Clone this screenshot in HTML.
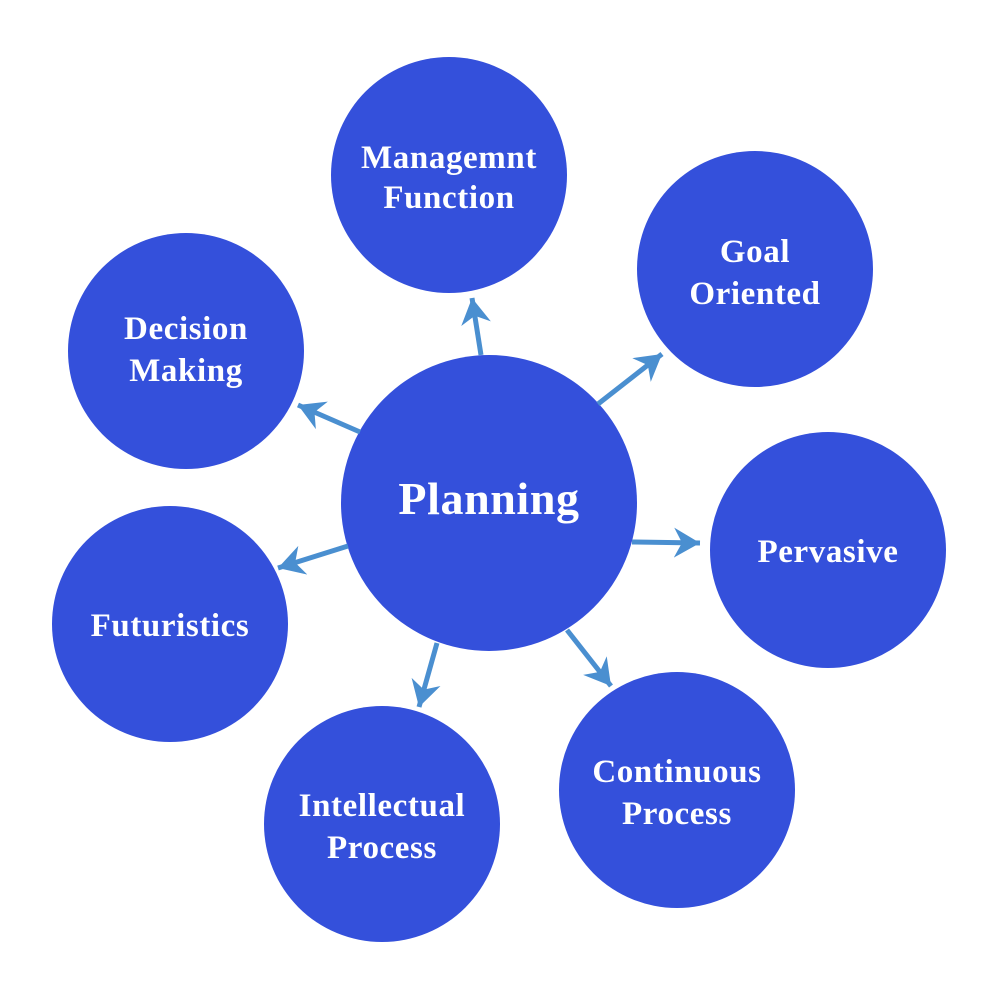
<!DOCTYPE html>
<html><head><style>
html,body{margin:0;padding:0;background:#fff;}
svg{display:block}
text{font-family:"Liberation Serif",serif;font-weight:bold;fill:#fff;text-anchor:middle;letter-spacing:0.6px;}
</style></head><body>
<svg width="1000" height="1000" viewBox="0 0 1000 1000">
<defs>
<marker id="a" markerWidth="30" markerHeight="32" refX="26" refY="15" orient="auto" markerUnits="userSpaceOnUse" viewBox="0 0 30 32">
<path d="M0,0 L26,15 L0,30 L8,15 z" fill="#4A8FD0"/>
</marker>
</defs>
<g fill="#3450DB">
<circle cx="489" cy="503" r="148"/>
<circle cx="449" cy="175" r="118"/>
<circle cx="755" cy="269" r="118"/>
<circle cx="828" cy="550" r="118"/>
<circle cx="677" cy="790" r="118"/>
<circle cx="382" cy="824" r="118"/>
<circle cx="170" cy="624" r="118"/>
<circle cx="186" cy="351" r="118"/>
</g>
<g stroke="#4A8FD0" stroke-width="5" fill="none" marker-end="url(#a)">
<line x1="481" y1="355" x2="472" y2="298"/>
<line x1="598" y1="404" x2="662" y2="354"/>
<line x1="360" y1="432" x2="298" y2="405"/>
<line x1="348" y1="546" x2="278" y2="568"/>
<line x1="632" y1="542" x2="700" y2="543"/>
<line x1="437" y1="643" x2="419" y2="707"/>
<line x1="567" y1="630" x2="611" y2="686"/>
</g>
<text x="489" y="514" font-size="46">Planning</text>
<text x="449" y="168" font-size="33">Managemnt</text>
<text x="449" y="208" font-size="33">Function</text>
<text x="755" y="262" font-size="33">Goal</text>
<text x="755" y="304" font-size="33">Oriented</text>
<text x="828" y="562" font-size="33">Pervasive</text>
<text x="677" y="782" font-size="33">Continuous</text>
<text x="677" y="824" font-size="33">Process</text>
<text x="382" y="816" font-size="33">Intellectual</text>
<text x="382" y="858" font-size="33">Process</text>
<text x="170" y="636" font-size="33">Futuristics</text>
<text x="186" y="339" font-size="33">Decision</text>
<text x="186" y="381" font-size="33">Making</text>
</svg>
</body></html>
